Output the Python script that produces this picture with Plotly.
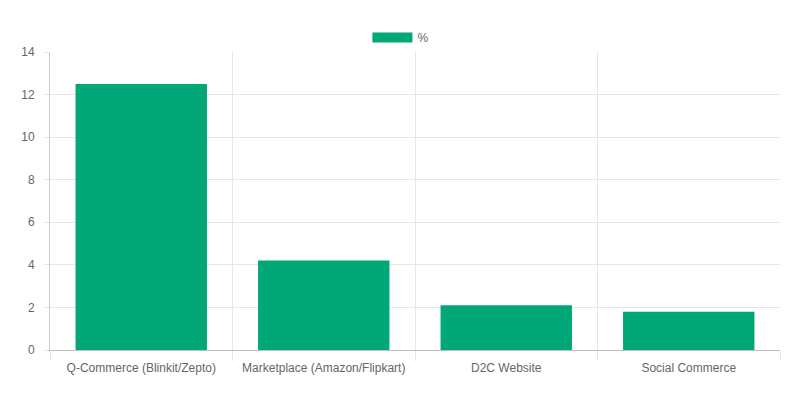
import plotly.graph_objects as go

categories = ["Q-Commerce (Blinkit/Zepto)", "Marketplace (Amazon/Flipkart)", "D2C Website", "Social Commerce"]
values = [12.5, 4.2, 2.1, 1.8]
series_name = "%"
y_ticks = [0, 2, 4, 6, 8, 10, 12, 14]

color = "#00A878"
grid = "#e6e6e6"

fig = go.Figure()
fig.add_trace(go.Bar(x=categories, y=values, name=series_name, marker=dict(color=color, line=dict(width=0)),
                     width=0.72, showlegend=False))
fig.add_trace(go.Scatter(x=[None], y=[None], mode="lines", name=series_name,
                         line=dict(color=color, width=12), showlegend=True))

fig.update_layout(
    width=800, height=400,
    margin=dict(l=42, r=28, t=44, b=58),
    paper_bgcolor="white", plot_bgcolor="white",
    font=dict(family="Liberation Sans, Arial, sans-serif", size=12, color="#666666"),
    legend=dict(orientation="h", x=0.48, xanchor="center", y=1.0, yanchor="bottom",
                font=dict(size=12, color="#666666"), itemwidth=40),
    xaxis=dict(type="category", tickson="boundaries", showgrid=True, gridcolor=grid, gridwidth=1,
               ticks="outside", ticklen=10, tickcolor=grid, showline=True, linecolor="#c0c0c0", linewidth=1,
               zeroline=False, ticklabelstandoff=7),
    yaxis=dict(range=[0, 14], tickvals=y_ticks, showgrid=True, gridcolor=grid, gridwidth=1,
               ticks="outside", ticklen=5, tickcolor=grid, showline=True, linecolor="#c8c8c8", linewidth=1,
               zeroline=False, ticklabelstandoff=7),
    bargap=0.28,
)

fig.write_html("out.html")
